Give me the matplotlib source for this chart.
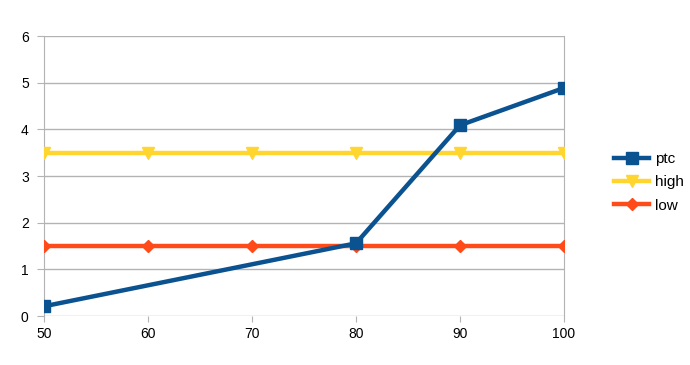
import numpy as np
import matplotlib.pyplot as plt

plt.rcParams['font.family'] = ['Liberation Sans', 'DejaVu Sans']

ptc_x = [50, 80, 90, 100]
ptc_y = [0.21, 1.56, 4.09, 4.89]
lvl_x = [50, 60, 70, 80, 90, 100]
high = [3.5, 3.5, 3.5, 3.5, 3.5, 3.5]
low = [1.5, 1.5, 1.5, 1.5, 1.5, 1.5]

fig = plt.figure(figsize=(6.9, 3.65), dpi=100)
ax = fig.add_axes([0.0638, 0.134, 0.7536, 0.767])

grid = '#b3b3b3'
ax.plot(lvl_x, high, color='#ffd52e', lw=3.2, marker='v', ms=8, label='high', zorder=3)
ax.plot(lvl_x, low, color='#ff4a1a', lw=3.2, marker='D', ms=6, label='low', zorder=3)
ax.plot(ptc_x, ptc_y, color='#0a5290', lw=3.2, marker='s', ms=9, label='ptc', zorder=4)

ax.set_xlim(50, 100)
ax.set_ylim(0, 6)
ax.set_xticks([50, 60, 70, 80, 90, 100])
ax.set_yticks(range(7))
ax.yaxis.grid(True, color=grid, lw=1)
ax.set_axisbelow(True)
for s in ['top', 'bottom']:
    ax.spines[s].set_visible(False)
for s in ['left', 'right']:
    ax.spines[s].set_color(grid)
ax.tick_params(axis='both', colors=grid, labelcolor='black', labelsize=10, length=5)
ax.tick_params(axis='x', length=4)
ax.tick_params(axis='y', pad=6)

h, l = ax.get_legend_handles_labels()
order = [2, 0, 1]
fig.legend([h[i] for i in order], [l[i] for i in order], loc='center left',
           bbox_to_anchor=(0.87, 0.5), frameon=False, fontsize=11,
           handlelength=2.3, handletextpad=0.4, labelspacing=0.6)

fig.savefig('out.png', dpi=100)
